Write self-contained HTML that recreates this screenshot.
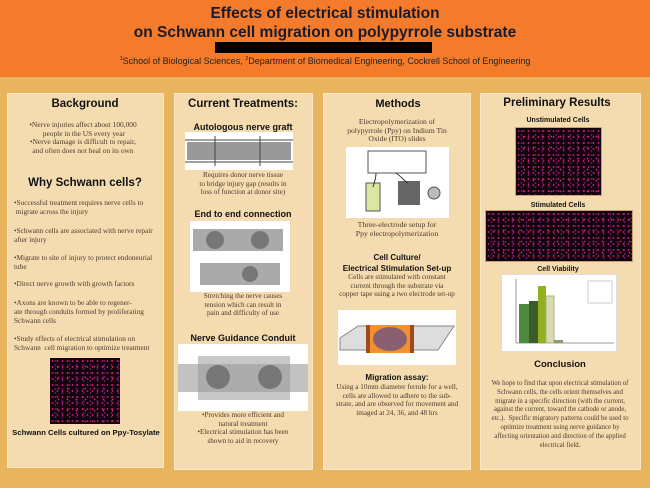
<!DOCTYPE html>
<html><head><meta charset="utf-8"><style>
*{margin:0;padding:0;box-sizing:border-box}
body{width:650px;height:488px;background:#e8b55e;position:relative;overflow:hidden;font-family:"Liberation Serif",serif;color:#3a2a1a}
.hdr{position:absolute;left:0;top:0;width:650px;height:77px;background:#f47b2b}
.t{position:absolute;left:0;width:650px;text-align:center;white-space:nowrap}
.p{position:absolute;background:#f5dcb0;border:1px solid #f8e8c8}
.c{position:absolute;text-align:center;white-space:nowrap;transform:translateX(-50%)}
.h{font-family:"Liberation Sans",sans-serif;font-weight:bold;color:#111}
.s{font-size:7.2px;line-height:8.7px;color:#4a3a2a}
.l{position:absolute;white-space:nowrap;font-size:7.3px;line-height:9px;color:#4a3a2a}
.img{position:absolute;background:#fff}
.mic{position:absolute;background:#12030c;background-image:radial-gradient(circle,#c81e64 0.7px,transparent 1.1px),radial-gradient(circle,#6a1a7a 0.7px,transparent 1.1px),radial-gradient(circle,#e03080 0.6px,transparent 1px);background-size:5px 6px,7px 4px,9px 11px;background-position:0 0,2px 1px,4px 3px}
</style></head><body>
<div class="hdr"></div>
<div class="t h" style="top:5px;font-size:15.5px;line-height:18px;color:#1a1a2a">Effects of electrical stimulation</div>
<div class="t h" style="top:24px;font-size:15.5px;line-height:18px;color:#1a1a2a">on Schwann cell migration on polypyrrole substrate</div>
<div style="position:absolute;left:215px;top:42px;width:217px;height:11px;background:#000"></div>
<div class="t" style="top:56px;font-family:'Liberation Sans',sans-serif;font-size:9px;color:#222"><sup style="font-size:5.5px">1</sup>School of Biological Sciences, <sup style="font-size:5.5px">2</sup>Department of Biomedical Engineering, Cockrell School of Engineering</div>

<div class="p" style="left:7px;top:93px;width:157px;height:375px"></div>
<div class="p" style="left:174px;top:93px;width:139px;height:377px"></div>
<div class="p" style="left:323px;top:93px;width:148px;height:377px"></div>
<div class="p" style="left:480px;top:93px;width:161px;height:377px"></div>

<!-- panel1 -->
<div class="c h" style="left:85px;top:98px;font-size:11.5px">Background</div>
<div class="c s" style="left:83px;top:121px;font-size:7.4px">•Nerve injuries affect about 100,000<br>&nbsp;people in the US every year<br>•Nerve damage is difficult to repair,<br>and often does not heal on its own</div>
<div class="c h" style="left:85px;top:177px;font-size:11.5px">Why Schwann cells?</div>
<div class="l" style="left:14px;top:198px">•Successful treatment requires nerve cells to<br>&nbsp;migrate across the injury</div>
<div class="l" style="left:14px;top:226px">•Schwann cells are associated with nerve repair<br>after injury</div>
<div class="l" style="left:14px;top:253px">•Migrate to site of injury to protect endoneurial<br>tube</div>
<div class="l" style="left:14px;top:279px">•Direct nerve growth with growth factors</div>
<div class="l" style="left:14px;top:298px">•Axons are known to be able to regener-<br>ate through conduits formed by proliferating<br>Schwann cells</div>
<div class="l" style="left:14px;top:334px">•Study effects of electrical stimulation on<br>Schwann&nbsp; cell migration to optimize treatment</div>
<div class="mic" style="left:50px;top:358px;width:70px;height:66px"></div>
<div class="c h" style="left:86px;top:428px;font-size:7.7px">Schwann Cells cultured on Ppy-Tosylate</div>

<!-- panel2 -->
<div class="c h" style="left:243px;top:98px;font-size:11.5px">Current Treatments:</div>
<div class="c h" style="left:243px;top:122px;font-size:9px">Autologous nerve graft</div>
<div class="img" style="left:185px;top:132px;width:108px;height:38px"><svg width="108" height="38"><rect x="2" y="10" width="104" height="18" fill="#999"/><path d="M0 8 H108 M0 30 H108 M30 4 V34 M75 4 V34" stroke="#444" fill="none"/></svg></div>
<div class="c s" style="left:243px;top:171px">Requires donor nerve tissue<br>to bridge injury gap (results in<br>loss of function at donor site)</div>
<div class="c h" style="left:243px;top:209px;font-size:9px">End to end connection</div>
<div class="img" style="left:190px;top:221px;width:100px;height:71px"><svg width="100" height="71"><rect x="3" y="8" width="90" height="22" fill="#aaa"/><rect x="10" y="42" width="80" height="22" fill="#aaa"/><circle cx="25" cy="19" r="9" fill="#777"/><circle cx="70" cy="19" r="9" fill="#777"/><circle cx="60" cy="53" r="8" fill="#777"/></svg></div>
<div class="c s" style="left:243px;top:292px">Stretching the nerve causes<br>tension which can result in<br>pain and difficulty of use</div>
<div class="c h" style="left:243px;top:333px;font-size:9px">Nerve Guidance Conduit</div>
<div class="img" style="left:178px;top:344px;width:130px;height:67px"><svg width="130" height="67"><rect x="20" y="12" width="92" height="44" fill="#c8c8c8"/><rect x="0" y="20" width="130" height="28" fill="#999" opacity=".6"/><circle cx="40" cy="33" r="12" fill="#777"/><circle cx="92" cy="33" r="12" fill="#777"/></svg></div>
<div class="c s" style="left:243px;top:411px">•Provides more efficient and<br>natural treatment<br>•Electrical stimulation has been<br>shown to aid in recovery</div>

<!-- panel3 -->
<div class="c h" style="left:398px;top:98px;font-size:11px">Methods</div>
<div class="c s" style="left:397px;top:118px;font-size:7.6px">Electropolymerization of<br>polypyrrole (Ppy) on Indium Tin<br>Oxide (ITO) slides</div>
<div class="img" style="left:346px;top:147px;width:103px;height:71px"><svg width="103" height="71"><rect x="22" y="4" width="58" height="22" fill="none" stroke="#555"/><rect x="20" y="36" width="14" height="28" fill="#dde6a0" stroke="#555"/><rect x="52" y="34" width="22" height="24" fill="#666"/><circle cx="88" cy="46" r="6" fill="#bbb" stroke="#555"/><path d="M30 26 C30 32 28 36 27 40 M50 26 C56 30 58 34 62 36" stroke="#333" fill="none"/></svg></div>
<div class="c s" style="left:397px;top:221px;font-size:7.8px">Three-electrode setup for<br>Ppy electropolymerization</div>
<div class="c h" style="left:397px;top:252px;font-size:8px;line-height:11px">Cell Culture/<br>Electrical Stimulation Set-up</div>
<div class="c s" style="left:397px;top:273px">Cells are stimulated with constant<br>current through the substrate via<br>copper tape using a two electrode set-up</div>
<div class="img" style="left:338px;top:310px;width:118px;height:55px"><svg width="118" height="55"><polygon points="2,28 20,16 116,16 100,40 2,40" fill="#ddd" stroke="#888"/><rect x="30" y="15" width="44" height="28" fill="#f09030"/><rect x="28" y="15" width="4" height="28" fill="#a04a1a"/><rect x="72" y="15" width="4" height="28" fill="#a04a1a"/><ellipse cx="52" cy="29" rx="17" ry="12" fill="#8a6070"/></svg></div>
<div class="c h" style="left:397px;top:373px;font-size:8px">Migration assay:</div>
<div class="c s" style="left:397px;top:383px">Using a 10mm diameter ferrule for a well,<br>cells are allowed to adhere to the sub-<br>strate, and are observed for movement and<br>imaged at 24, 36, and 48 hrs</div>

<!-- panel4 -->
<div class="c h" style="left:557px;top:97px;font-size:11.5px">Preliminary Results</div>
<div class="c h" style="left:558px;top:117px;font-size:7px">Unstimulated Cells</div>
<div class="mic" style="left:515px;top:127px;width:87px;height:69px;border:1px solid #c8a070"></div>
<div class="c h" style="left:558px;top:202px;font-size:7px">Stimulated Cells</div>
<div class="mic" style="left:485px;top:210px;width:148px;height:52px;border:1px solid #c8a070"></div>
<div class="c h" style="left:558px;top:266px;font-size:7px">Cell Viability</div>
<div class="img" style="left:501px;top:274px;width:116px;height:78px;border:1px solid #ddd">
<svg width="116" height="78"><line x1="14" y1="4" x2="14" y2="68" stroke="#999"/><line x1="14" y1="68" x2="112" y2="68" stroke="#999"/>
<rect x="17" y="29" width="10" height="39" fill="#4c8a3c"/><rect x="27" y="26" width="9" height="42" fill="#3c5a2a"/><rect x="36" y="11" width="8" height="57" fill="#90b020"/><rect x="44" y="21" width="8" height="47" fill="#d8dcb0" stroke="#aab080"/><rect x="52" y="65" width="9" height="3" fill="#8a9a70"/>
<rect x="86" y="6" width="24" height="22" fill="#fff" stroke="#ccc"/></svg></div>
<div class="c h" style="left:560px;top:359px;font-size:9.5px">Conclusion</div>
<div class="c s" style="left:560px;top:380px;font-size:6.8px;line-height:8.8px">We hope to find that upon electrical stimulation of<br>Schwann cells, the cells orient themselves and<br>migrate in a specific direction (with the current,<br>against the current, toward the cathode or anode,<br>etc.).&nbsp; Specific migratory patterns could be used to<br>optimize treatment using nerve guidance by<br>affecting orientation and direction of the applied<br>electrical field.</div>
</body></html>
